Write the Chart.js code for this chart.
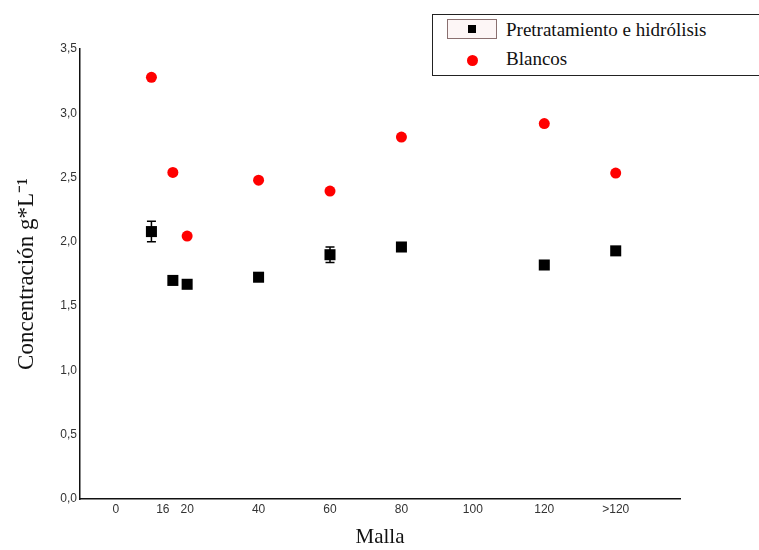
<!DOCTYPE html>
<html>
<head>
<meta charset="utf-8">
<script src="https://cdn.jsdelivr.net/npm/chart.js@4"></script>
<style>
  body { margin: 0; background: #fff; }
  #wrap { position: relative; width: 759px; height: 550px; overflow: hidden; }
  #legend {
    position: absolute; left: 432px; top: 14px; width: 340px; height: 60px;
    border: 1.5px solid #222; background: #fff;
    font-family: "Liberation Serif", serif; font-size: 19px; color: #111;
  }
  .row { position: absolute; left: 73px; }
  .mbox { position: absolute; left: 14px; top: 4px; width: 48px; height: 18px;
    border: 1px solid #8a7070; background: #fdf6f6; }
  .sq { position: absolute; left: 20px; top: 5px; width: 8px; height: 8px; background: #000; }
  .dot { position: absolute; left: 34px; top: 40px; width: 11px; height: 11px; border-radius: 50%; background: #f00; }
</style>
</head>
<body>
<div id="wrap">
  <canvas id="chart" width="759" height="550"></canvas>
  <div id="legend">
    <div class="mbox"><div class="sq"></div></div>
    <div class="row" style="top:4px;">Pretratamiento e hidrólisis</div>
    <div class="dot"></div>
    <div class="row" style="top:33px;">Blancos</div>
  </div>
</div>
<script>
// Malla values (>120 plotted at 140)
const malla = [10, 16, 20, 40, 60, 80, 120, 140];
const pretratamiento = [2.08, 1.70, 1.67, 1.725, 1.90, 1.96, 1.82, 1.93];
const pretratamientoErr = [0.08, 0.02, 0, 0.03, 0.06, 0, 0, 0.02];
const blancos = [3.28, 2.54, 2.045, 2.48, 2.395, 2.815, 2.92, 2.535];
const xTicks = [0, 16, 20, 40, 60, 80, 100, 120, 140];
const xTickLabels = ['0', '16      ', '20', '40', '60', '80', '100', '120', '>120'];

const errorBars = {
    id: 'errorBars',
    beforeDatasetsDraw(chart) {
        const ctx = chart.ctx;
        const xs = chart.scales.x, ys = chart.scales.y;
        ctx.save();
        ctx.strokeStyle = '#000';
        ctx.lineWidth = 1.5;
        malla.forEach((m, i) => {
            const e = pretratamientoErr[i];
            if (!e) return;
            const x = xs.getPixelForValue(m);
            const y1 = ys.getPixelForValue(pretratamiento[i] + e);
            const y2 = ys.getPixelForValue(pretratamiento[i] - e);
            ctx.beginPath();
            ctx.moveTo(x, y1); ctx.lineTo(x, y2);
            ctx.moveTo(x - 4.5, y1); ctx.lineTo(x + 4.5, y1);
            ctx.moveTo(x - 4.5, y2); ctx.lineTo(x + 4.5, y2);
            ctx.stroke();
        });
        ctx.restore();
    }
};

const ctx = document.getElementById('chart').getContext('2d');
new Chart(ctx, {
    type: 'scatter',
    data: {
        datasets: [
            {
                label: 'Pretratamiento e hidrólisis',
                data: malla.map((m, i) => ({ x: m, y: pretratamiento[i] })),
                pointStyle: 'rect',
                pointRadius: 7.8,
                backgroundColor: '#000',
                borderColor: '#000',
                borderWidth: 0
            },
            {
                label: 'Blancos',
                data: malla.map((m, i) => ({ x: m, y: blancos[i] })),
                pointStyle: 'circle',
                pointRadius: 5.5,
                backgroundColor: '#f00',
                borderColor: '#f00',
                borderWidth: 0
            }
        ]
    },
    options: {
        responsive: false,
        animation: false,
        layout: { padding: { top: 49, right: 79, bottom: 0, left: 0 } },
        plugins: { legend: { display: false }, tooltip: { enabled: false } },
        scales: {
            x: {
                type: 'linear',
                min: -10,
                max: 158,
                grid: { display: false, drawTicks: false },
                border: { display: true, color: '#111', width: 1.5 },
                afterBuildTicks: axis => { axis.ticks = xTicks.map(v => ({ value: v })); },
                afterFit: axis => { axis.height = 51; },
                ticks: {
                    autoSkip: false,
                    maxRotation: 0,
                    padding: 3,
                    color: '#333',
                    font: { family: 'Liberation Sans', size: 12 },
                    callback: v => xTickLabels[xTicks.indexOf(v)]
                },
                title: {
                    display: true,
                    text: 'Malla',
                    color: '#111',
                    padding: { top: 11, bottom: 0 },
                    font: { family: 'Liberation Serif', size: 21 }
                }
            },
            y: {
                min: 0,
                max: 3.5,
                grid: { display: false, drawTicks: false },
                border: { display: true, color: '#111', width: 1.5 },
                afterFit: axis => { axis.width = 80; },
                ticks: {
                    stepSize: 0.5,
                    padding: 3,
                    color: '#333',
                    font: { family: 'Liberation Sans', size: 12 },
                    callback: v => v.toFixed(1).replace('.', ',')
                },
                title: {
                    display: true,
                    text: 'Concentración g*L⁻¹',
                    color: '#111',
                    padding: { top: 13, bottom: 0 },
                    font: { family: 'Liberation Serif', size: 23 }
                }
            }
        }
    },
    plugins: [errorBars]
});
</script>
</body>
</html>
